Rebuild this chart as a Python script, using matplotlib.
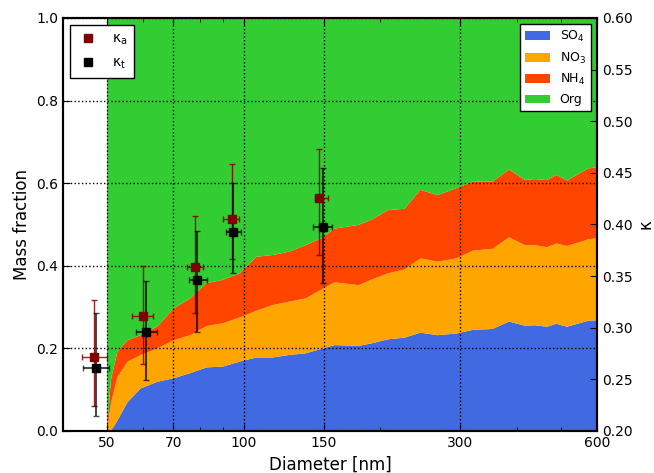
import numpy as np
import matplotlib
matplotlib.use("Agg")
import matplotlib.pyplot as plt
from matplotlib.lines import Line2D
from matplotlib.ticker import NullFormatter, FixedLocator, FixedFormatter

# mass fractions of the inorganic species vs. diameter
diam = [50, 51, 52.7, 55.5, 59.3, 64.5, 70.2, 76.2, 82.8, 90, 98, 106.6, 115.7,
        125.8, 136.8, 148.6, 158.5, 179, 190.7, 208, 226, 245, 267, 294, 320,
        353, 384, 416, 437, 465, 488, 515, 574, 600]
so4 = [0, 0, 0.025, 0.07, 0.103, 0.119, 0.128, 0.14, 0.154, 0.156, 0.168, 0.178,
       0.178, 0.184, 0.188, 0.199, 0.208, 0.206, 0.212, 0.222, 0.226, 0.238,
       0.232, 0.236, 0.245, 0.247, 0.265, 0.255, 0.256, 0.2525, 0.2595, 0.2525,
       0.267, 0.268]
no3 = [0, 0.067, 0.106, 0.098, 0.081, 0.081, 0.092, 0.092, 0.100, 0.105, 0.107,
       0.113, 0.127, 0.129, 0.133, 0.144, 0.152, 0.147, 0.154, 0.160, 0.165,
       0.180, 0.178, 0.182, 0.192, 0.194, 0.204, 0.195, 0.194, 0.1925, 0.1945,
       0.1955, 0.197, 0.199]
nh4 = [0, 0.057, 0.061, 0.052, 0.048, 0.053, 0.077, 0.089, 0.104, 0.105, 0.107,
       0.131, 0.121, 0.121, 0.129, 0.124, 0.130, 0.146, 0.145, 0.153, 0.147,
       0.166, 0.161, 0.170, 0.167, 0.163, 0.164, 0.158, 0.160, 0.1625, 0.166,
       0.1585, 0.172, 0.171]
org = 1 - np.array(so4) - np.array(no3) - np.array(nh4)

# kappa values with ranges
d_a = [46.8, 59.9, 78.2, 94.0, 146.4]
d_a_lo = [44.1, 56.7, 75.0, 90.1, 143.5]
d_a_hi = [49.9, 63.1, 81.5, 97.5, 153.4]
k_a = [0.272, 0.311, 0.359, 0.4056, 0.426]
k_a_lo = [0.224, 0.2645, 0.3146, 0.367, 0.370]
k_a_hi = [0.327, 0.3598, 0.408, 0.4586, 0.473]

d_t = [47.3, 60.8, 78.8, 94.5, 149.4]
d_t_lo = [44.3, 57.8, 75.9, 91.2, 142.3]
d_t_hi = [50.6, 64.5, 82.9, 98.5, 156.5]
k_t = [0.261, 0.296, 0.346, 0.393, 0.398]
k_t_lo = [0.2145, 0.249, 0.2956, 0.3527, 0.3436]
k_t_hi = [0.314, 0.3456, 0.394, 0.4405, 0.455]

colors = ['royalblue', 'orange', 'orangered', 'limegreen']
labels = ['SO$_4$', 'NO$_3$', 'NH$_4$', 'Org']

fig = plt.figure(figsize=(6.54, 4.73), dpi=100)
ax = fig.add_axes([0.0963, 0.0888, 0.8167, 0.8732])
polys = ax.stackplot(diam, so4, no3, nh4, org, colors=colors, labels=labels, linewidth=0)

ax.set_xscale('log')
ax.set_xlim(40, 600)
ax.set_ylim(0, 1)
xt = [50, 70, 100, 150, 300, 600]
ax.xaxis.set_major_locator(FixedLocator(xt))
ax.xaxis.set_major_formatter(FixedFormatter([str(v) for v in xt]))
ax.xaxis.set_minor_formatter(NullFormatter())
ax.set_yticks([0, 0.2, 0.4, 0.6, 0.8, 1.0])
ax.set_yticklabels(['0.0', '0.2', '0.4', '0.6', '0.8', '1.0'])
ax.set_axisbelow(False)
ax.grid(True, which='major', linestyle=':', color='k', linewidth=1)
ax.tick_params(which='both', direction='in', top=True, right=False, labelsize=10)
ax.tick_params(which='major', length=5)
ax.tick_params(which='minor', length=3)
ax.set_xlabel('Diameter [nm]', fontsize=12)
ax.set_ylabel('Mass fraction', fontsize=12)

ax2 = ax.twinx()
ax2.set_ylim(0.2, 0.6)
ax2.set_yticks([0.2, 0.25, 0.3, 0.35, 0.4, 0.45, 0.5, 0.55, 0.6])
ax2.set_yticklabels(['%.2f' % v for v in [0.2, 0.25, 0.3, 0.35, 0.4, 0.45, 0.5, 0.55, 0.6]])
ax2.tick_params(direction='in', length=5, labelsize=10)
ax2.set_ylabel('κ', fontsize=12, labelpad=3)

d_a = np.array(d_a)
d_t = np.array(d_t)
k_a = np.array(k_a)
k_t = np.array(k_t)
ax2.errorbar(d_a, k_a,
             xerr=[d_a - np.array(d_a_lo), np.array(d_a_hi) - d_a],
             yerr=[k_a - np.array(k_a_lo), np.array(k_a_hi) - k_a],
             fmt='none', ecolor='#800000', elinewidth=1, capsize=2.5, alpha=0.85)
ax2.errorbar(d_t, k_t,
             xerr=[d_t - np.array(d_t_lo), np.array(d_t_hi) - d_t],
             yerr=[k_t - np.array(k_t_lo), np.array(k_t_hi) - k_t],
             fmt='none', ecolor='k', elinewidth=1.5, capsize=2.5, alpha=0.7)
ax2.plot(d_a, k_a, 's', color='#800000', ms=5.5)
ax2.plot(d_t, k_t, 's', color='k', ms=5.5)

for a in (ax, ax2):
    for s in a.spines.values():
        s.set_linewidth(1.5)

h_k = [Line2D([], [], marker='s', color='#800000', ls='none', ms=5.5),
       Line2D([], [], marker='s', color='k', ls='none', ms=5.5)]
leg1 = ax2.legend(h_k, ['κ$_\\mathrm{a}$', 'κ$_\\mathrm{t}$'], loc='upper left',
                  numpoints=1, fontsize=10, fancybox=False, edgecolor='k',
                  framealpha=1, borderpad=0.5, labelspacing=0.6,
                  handlelength=1.6, handletextpad=0.9)
leg1.get_frame().set_linewidth(1)
ax2.add_artist(leg1)
leg2 = ax2.legend(polys, labels, loc='upper right', fontsize=9, fancybox=False,
                  edgecolor='k', framealpha=1)
leg2.get_frame().set_linewidth(1)

fig.savefig('out.png', dpi=100)
